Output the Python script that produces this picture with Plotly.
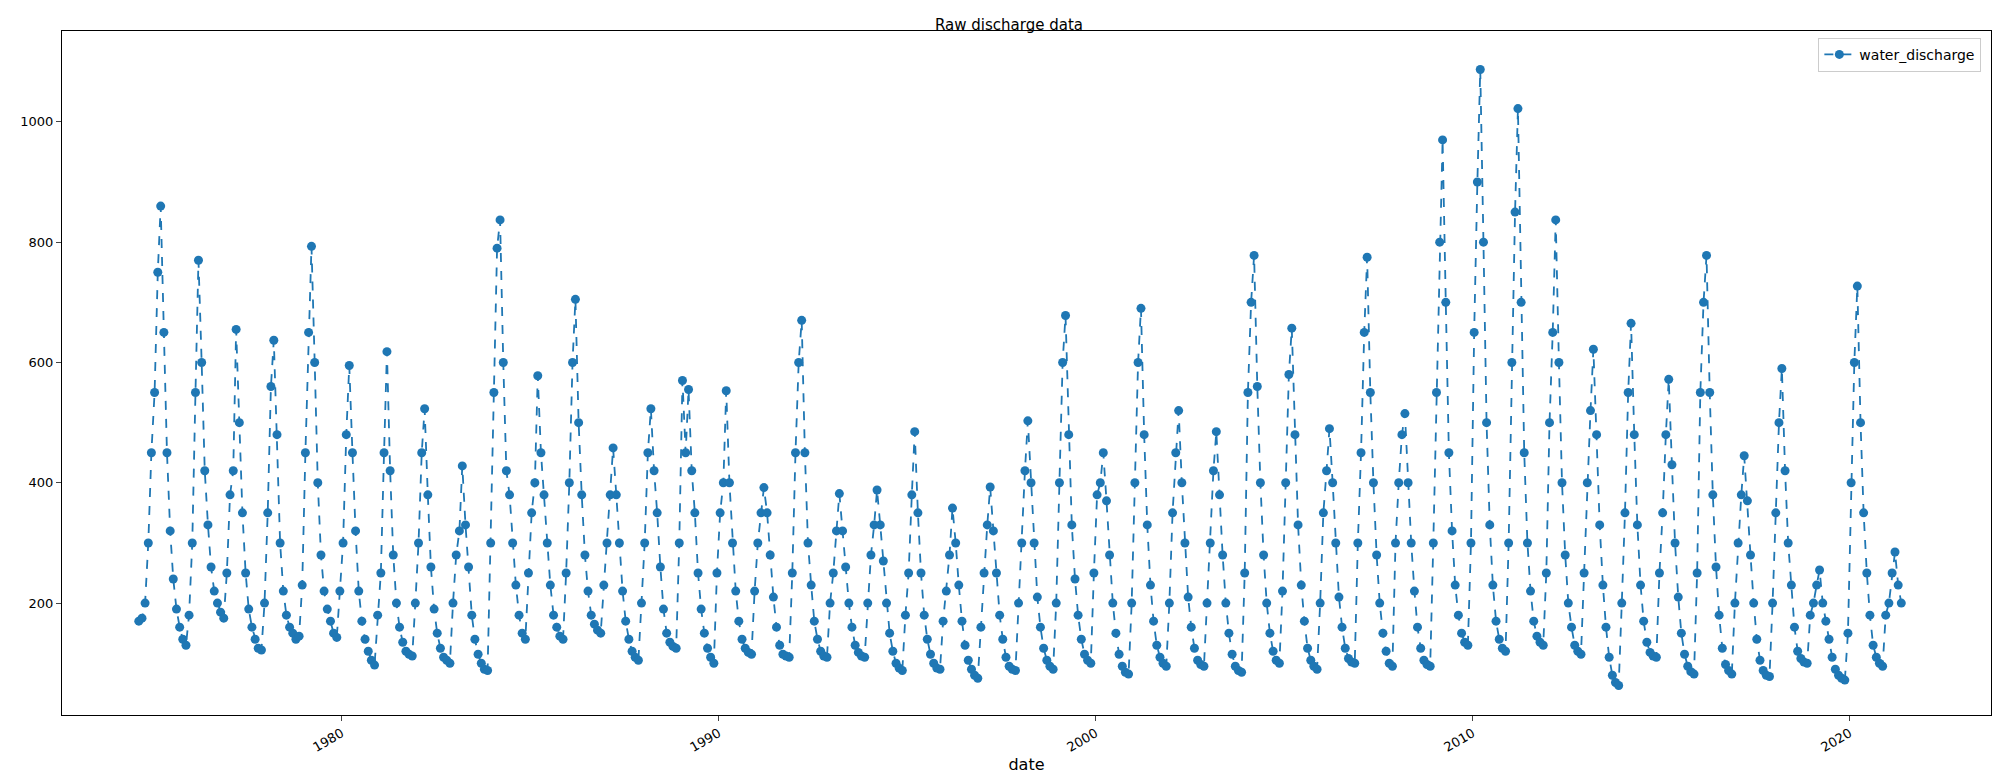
import pandas as pd
import plotly.graph_objects as go

start_month = "1974-08-15"
# monthly values (Aug 1974 .. May 2021)
water_discharge = [
    170, 175, 200, 300, 450,                                        # 1974 Aug-Dec
    550, 750, 860, 650, 450, 320, 240, 190, 160, 140, 130, 180,     # 1975
    300, 550, 770, 600, 420, 330, 260, 220, 200, 185, 175, 250,     # 1976
    380, 420, 655, 500, 350, 250, 190, 160, 140, 125, 122, 200,     # 1977
    350, 560, 637, 480, 300, 220, 180, 160, 150, 140, 145, 230,     # 1978
    450, 650, 793, 600, 400, 280, 220, 190, 170, 150, 143, 220,     # 1979
    300, 480, 595, 450, 320, 220, 170, 140, 120, 105, 97, 180,      # 1980
    250, 450, 618, 420, 280, 200, 160, 135, 120, 115, 112, 200,     # 1981
    300, 450, 523, 380, 260, 190, 150, 125, 110, 105, 100, 200,     # 1982
    280, 320, 428, 330, 260, 180, 140, 115, 100, 90, 88, 300,       # 1983
    550, 790, 837, 600, 420, 380, 300, 230, 180, 150, 140, 250,     # 1984
    350, 400, 578, 450, 380, 300, 230, 180, 160, 145, 140, 250,     # 1985
    400, 600, 705, 500, 380, 280, 220, 180, 165, 155, 150, 230,     # 1986
    300, 380, 458, 380, 300, 220, 170, 140, 120, 110, 105, 200,     # 1987
    300, 450, 523, 420, 350, 260, 190, 150, 135, 128, 125, 300,     # 1988
    570, 450, 555, 420, 350, 250, 190, 150, 125, 110, 100, 250,     # 1989
    350, 400, 553, 400, 300, 220, 170, 140, 125, 118, 115, 220,     # 1990
    300, 350, 392, 350, 280, 210, 160, 130, 115, 112, 110, 250,     # 1991
    450, 600, 670, 450, 300, 230, 170, 140, 120, 112, 110, 200,     # 1992
    250, 320, 382, 320, 260, 200, 160, 130, 118, 112, 110, 200,     # 1993
    280, 330, 388, 330, 270, 200, 150, 120, 100, 92, 88, 180,       # 1994
    250, 380, 485, 350, 250, 180, 140, 115, 100, 92, 90, 170,       # 1995
    220, 280, 358, 300, 230, 170, 130, 105, 90, 80, 75, 160,        # 1996
    250, 330, 393, 320, 250, 180, 140, 110, 95, 90, 88, 200,        # 1997
    300, 420, 503, 400, 300, 210, 160, 125, 105, 95, 90, 200,       # 1998
    400, 600, 678, 480, 330, 240, 180, 140, 115, 105, 100, 250,     # 1999
    380, 400, 450, 370, 280, 200, 150, 115, 95, 85, 82, 200,        # 2000
    400, 600, 690, 480, 330, 230, 170, 130, 110, 100, 95, 200,      # 2001
    350, 450, 520, 400, 300, 210, 160, 125, 105, 98, 95, 200,       # 2002
    300, 420, 485, 380, 280, 200, 150, 115, 95, 88, 85, 250,        # 2003
    550, 700, 778, 560, 400, 280, 200, 150, 120, 105, 100, 220,     # 2004
    400, 580, 657, 480, 330, 230, 170, 125, 105, 95, 90, 200,       # 2005
    350, 420, 490, 400, 300, 210, 160, 125, 108, 102, 100, 300,     # 2006
    450, 650, 775, 550, 400, 280, 200, 150, 120, 100, 95, 300,      # 2007
    400, 480, 515, 400, 300, 220, 160, 125, 105, 98, 95, 300,       # 2008
    550, 800, 970, 700, 450, 320, 230, 180, 150, 135, 130, 300,     # 2009
    650, 900, 1087, 800, 500, 330, 230, 170, 140, 125, 120, 300,    # 2010
    600, 850, 1022, 700, 450, 300, 220, 170, 145, 135, 130, 250,    # 2011
    500, 650, 837, 600, 400, 280, 200, 160, 130, 120, 115, 250,     # 2012
    400, 520, 622, 480, 330, 230, 160, 110, 80, 68, 63, 200,        # 2013
    350, 550, 665, 480, 330, 230, 170, 135, 118, 112, 110, 250,     # 2014
    350, 480, 572, 430, 300, 210, 150, 115, 95, 86, 82, 250,        # 2015
    550, 700, 778, 550, 380, 260, 180, 125, 98, 88, 82, 200,        # 2016
    300, 380, 445, 370, 280, 200, 140, 105, 88, 80, 78, 200,        # 2017
    350, 500, 590, 420, 300, 230, 160, 120, 108, 102, 100, 180,     # 2018
    200, 230, 255, 200, 170, 140, 110, 90, 80, 75, 72, 150,         # 2019
    400, 600, 727, 500, 350, 250, 180, 130, 110, 100, 95, 180,      # 2020
    200, 250, 285, 230, 200,                                        # 2021 Jan-May
]
dates = pd.date_range("1974-08-01", periods=len(water_discharge), freq="MS") + pd.Timedelta(days=14)

x_ticks = ["1980-01-01", "1990-01-01", "2000-01-01", "2010-01-01", "2020-01-01"]
x_labels = ["1980", "1990", "2000", "2010", "2020"]
y_ticks = [200, 400, 600, 800, 1000]

fig = go.Figure(go.Scatter(
    x=dates, y=water_discharge, mode="lines+markers", name="water_discharge",
    line=dict(color="#1f77b4", dash="dash", width=1.8),
    marker=dict(color="#1f77b4", size=9),
))
fig.update_layout(
    width=2002, height=781, paper_bgcolor="white", plot_bgcolor="white",
    margin=dict(l=54, r=19, t=23, b=74),
    font=dict(family="DejaVu Sans", size=13, color="black"),
    title=dict(text="Raw discharge data", x=0.5, xanchor="center", y=0.985, yanchor="top",
               font=dict(size=15)),
    showlegend=True,
    legend=dict(x=0.995, y=0.99, xanchor="right", yanchor="top",
                bordercolor="#cccccc", borderwidth=1, bgcolor="white", font=dict(size=14)),
)
fig.update_xaxes(range=["1972-08-01", "2023-10-01"], tickvals=x_ticks, ticktext=x_labels,
                 tickangle=-30, showgrid=False, zeroline=False, showline=True,
                 linecolor="black", mirror=True, ticks="outside", ticklen=5,
                 title=dict(text="date", standoff=4))
fig.update_yaxes(range=[14, 1151], tickvals=y_ticks, showgrid=False, zeroline=False,
                 showline=True, linecolor="black", mirror=True, ticks="outside", ticklen=5)
fig.write_html("out.html")
